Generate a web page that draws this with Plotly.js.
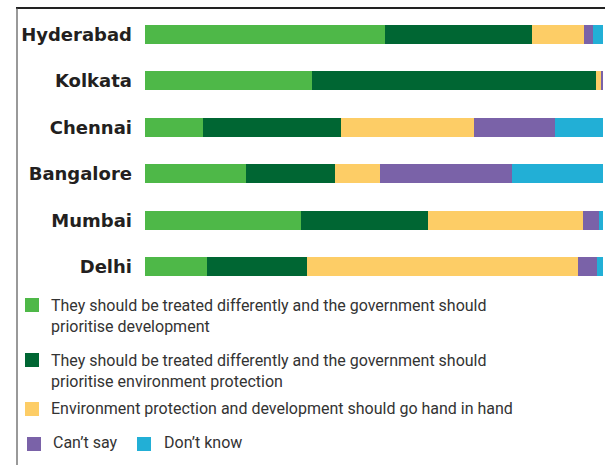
<!DOCTYPE html>
<html>
<head>
<meta charset="utf-8">
<script src="https://cdn.plot.ly/plotly-3.0.1.min.js"></script>
<style>html,body{margin:0;padding:0;background:#fff;}#chart{width:605px;height:465px;}</style>
</head>
<body>
<div id="chart"></div>
<script>
// ---- data ----
const cities = ["Hyderabad", "Kolkata", "Chennai", "Bangalore", "Mumbai", "Delhi"];
const seriesNames = [
  "They should be treated differently and the government should<br>prioritise development",
  "They should be treated differently and the government should<br>prioritise environment protection",
  "Environment protection and development should go hand in hand",
  "Can’t say",
  "Don’t know"
];
const prioritiseDevelopment = [52.4, 36.5, 12.7, 22.1, 34.1, 13.5];
const prioritiseEnvironment = [32.1, 62.0, 30.1, 19.4, 27.7, 21.8];
const handInHand            = [11.4, 1.1, 29.0, 9.8, 33.8, 59.2];
const cantSay               = [2.0, 0.4, 17.7, 28.8, 3.5, 4.1];
const dontKnow              = [2.1, 0.0, 10.5, 19.9, 0.9, 1.3];
const seriesValues = [prioritiseDevelopment, prioritiseEnvironment, handInHand, cantSay, dontKnow];
const seriesColors = ["#4eb848", "#006633", "#fdcd66", "#7a62a8", "#22afd6"];

// ---- layout geometry (pixels) ----
const W = 605, H = 465;
const M = {l: 145, r: 2, t: 11, b: 175};
const pw = W - M.l - M.r, ph = H - M.t - M.b;
const px2x = p => (p - M.l) / pw;
const px2y = p => (H - M.b - p) / ph;

// legend placement: [squareLeft, squareCenterY, textLeft, textCenterY]
const legendPos = [
  [25, 305, 49, 316],
  [25, 360, 49, 371],
  [25, 409, 49, 408],
  [27, 444, 51, 442],
  [137, 444, 162, 442]
];
const sq = 14;

const traces = seriesValues.map((vals, i) => ({
  type: "bar",
  orientation: "h",
  name: seriesNames[i],
  y: cities,
  x: vals,
  marker: {color: seriesColors[i], line: {width: 0}},
  hoverinfo: "skip",
  showlegend: false
}));

const shapes = [
  // frame lines
  {type: "line", xref: "paper", yref: "paper", x0: px2x(16), x1: px2x(606), y0: px2y(8), y1: px2y(8),
   line: {color: "#222", width: 2}},
  {type: "line", xref: "paper", yref: "paper", x0: px2x(17), x1: px2x(17), y0: px2y(8), y1: px2y(470),
   line: {color: "#555", width: 1.2}}
];
const annotations = [];
legendPos.forEach((p, i) => {
  shapes.push({type: "rect", xref: "paper", yref: "paper",
    x0: px2x(p[0]), x1: px2x(p[0] + sq), y0: px2y(p[1] - sq / 2), y1: px2y(p[1] + sq / 2),
    fillcolor: seriesColors[i], line: {width: 0}});
  annotations.push({xref: "paper", yref: "paper", x: px2x(p[2]), y: px2y(p[3]),
    xanchor: "left", yanchor: "middle", align: "left", showarrow: false,
    text: seriesNames[i],
    font: {family: "Roboto, sans-serif", size: 16, color: "#333"}});
});

const layout = {
  width: W, height: H,
  margin: M,
  barmode: "stack",
  bargap: 0.59,
  paper_bgcolor: "#fff",
  plot_bgcolor: "#fff",
  showlegend: false,
  xaxis: {range: [0, 100], visible: false, fixedrange: true},
  yaxis: {
    autorange: "reversed", showgrid: false, zeroline: false, showline: false, ticks: "",
    ticklabelstandoff: 12,
    tickfont: {family: "DejaVu Sans, sans-serif", size: 18, weight: "bold", color: "#231f20"},
    fixedrange: true
  },
  shapes: shapes,
  annotations: annotations
};

Plotly.newPlot("chart", traces, layout, {displayModeBar: false, staticPlot: true});
</script>
</body>
</html>
